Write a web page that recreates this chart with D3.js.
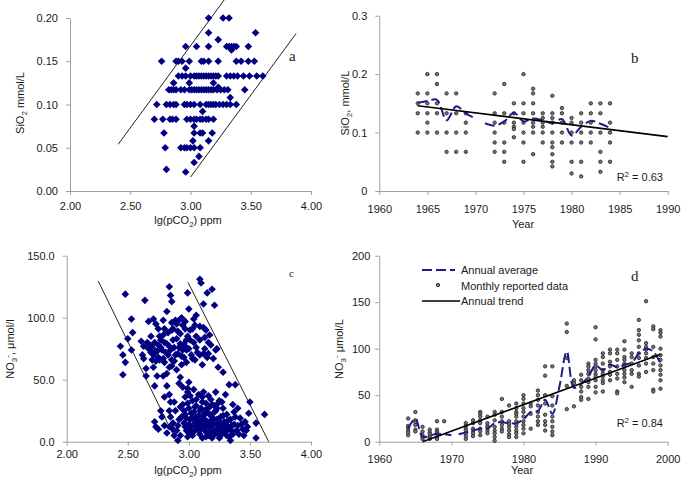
<!DOCTYPE html>
<html><head><meta charset="utf-8">
<script src="https://cdn.jsdelivr.net/npm/d3@7"></script>
<style>
body{margin:0;background:#fff}
svg{display:block}
text{font-family:"Liberation Sans",Arial,sans-serif;fill:#1a1a1a}
</style>
</head><body>
<svg id="chart" width="685" height="489"></svg>
<script>
// ---------------- DATA ----------------
// Panel a: SiO2 (mmol/L) levels and lg(pCO2) values observed at each level
const sio2Rows = [
  [0.200,[3.15,3.27,3.32]],
  [0.183,[3.15,3.54]],
  [0.175,[3.23]],
  [0.167,[2.96,3.05,3.15,3.30,3.32,3.34,3.36,3.38,3.48]],
  [0.163,[3.34]],
  [0.150,[2.76,2.88,2.90,2.93,2.99,3.09,3.11,3.15,3.23,3.38,3.42,3.48,3.53]],
  [0.142,[2.96]],
  [0.133,[2.90,2.93,2.96,3.00,3.03,3.05,3.07,3.09,3.11,3.13,3.15,3.17,3.19,3.21,3.23,3.30,3.33,3.36,3.39,3.44,3.49,3.55,3.60]],
  [0.125,[2.86,2.99,3.19]],
  [0.120,[3.23]],
  [0.117,[2.82,2.84,2.86,2.88,2.92,2.95,2.99,3.01,3.03,3.05,3.07,3.09,3.11,3.13,3.15,3.17,3.19,3.22,3.25,3.28,3.31,3.45]],
  [0.108,[3.33]],
  [0.100,[2.72,2.80,2.83,2.86,2.88,2.95,2.97,3.00,3.03,3.08,3.13,3.15,3.17,3.19,3.21,3.24,3.27,3.30,3.33,3.38]],
  [0.092,[3.10]],
  [0.083,[2.70,2.77,2.83,2.85,2.88,2.97,3.00,3.03,3.05,3.08,3.10,3.13,3.15,3.19]],
  [0.075,[3.03]],
  [0.067,[2.78,3.03,3.08,3.10,3.18]],
  [0.058,[3.02,3.15]],
  [0.050,[2.79,2.92,2.95,2.97,3.00,3.03,3.08]],
  [0.040,[3.07]],
  [0.033,[3.03]],
  [0.025,[2.80]],
  [0.022,[2.96]]
];
const boundsA = [[[2.40,0.054],[3.28,0.221]], [[3.00,0.016],[3.876,0.182]]];

// Panel b: monthly SiO2 by year, annual average, trend
const sio2Monthly = [
  [1964,[0.167,0.15,0.133,0.10]],
  [1965,[0.20,0.167,0.15,0.133,0.117,0.10]],
  [1966,[0.20,0.183,0.15,0.133,0.10]],
  [1967,[0.167,0.133,0.10,0.067]],
  [1968,[0.167,0.133,0.10,0.067]],
  [1969,[0.133,0.117,0.10,0.067]],
  [1972,[0.167,0.133,0.117,0.10,0.083,0.067]],
  [1973,[0.183,0.133,0.117,0.083,0.067,0.05]],
  [1974,[0.15,0.133,0.117,0.11,0.106,0.092]],
  [1975,[0.20,0.15,0.133,0.117,0.10,0.083,0.05]],
  [1976,[0.175,0.167,0.15,0.133,0.117,0.11,0.10,0.063]],
  [1977,[0.133,0.125,0.117,0.11,0.10,0.083]],
  [1978,[0.163,0.133,0.125,0.117,0.10,0.083,0.075,0.063,0.05,0.042]],
  [1979,[0.142,0.133,0.117,0.10,0.083]],
  [1980,[0.125,0.117,0.10,0.083,0.05,0.03]],
  [1981,[0.133,0.117,0.10,0.083,0.05,0.025]],
  [1982,[0.15,0.133,0.117,0.10,0.083]],
  [1983,[0.15,0.133,0.10,0.067,0.05,0.033]],
  [1984,[0.15,0.117,0.10,0.083,0.05]]
];
const sio2AvgYears = [1964,1965,1966,1967,1968,1969,1970,null,1971,1972,1973,1974,1975,1976,1977,1978,1979,1980,1981,1982,1983,1984];
const sio2AvgValues = [0.151,0.154,0.156,0.121,0.145,0.133,0.124,null,0.116,0.112,0.119,0.134,0.119,0.124,0.121,0.116,0.123,0.095,0.110,0.120,0.115,0.108];
const sio2Trend = [[1964,0.146],[1990,0.093]];

// Panel c: NO3 (umol/l) vs lg(pCO2)
const no3Pco = [
  [2.48,119],[2.64,114],[2.84,125],[2.85,118],[2.86,113],[2.99,120],[3.00,107],[3.09,131],[3.10,128],[3.15,120],[3.19,123],[3.21,110],[3.12,111],[3.04,99],[2.97,97],[2.92,98],[2.82,105],[2.79,98],[2.71,99],[2.67,97],[2.53,99],[2.54,88],[2.44,77],[2.46,70],[2.48,64],[2.46,54],[2.50,83],[2.53,74],[2.61,81],[2.63,77],[2.62,70],[2.63,67],[2.65,59],[2.65,53],[2.67,75],[2.69,85],[2.73,95],[2.75,91],[2.71,70],[2.73,65],[2.74,73],[2.77,82],[2.80,91],[2.86,96],[2.87,91],[2.90,95],[2.93,87],[2.95,94],[2.98,82],[3.01,90],[3.03,91],[3.06,85],[3.09,93],[3.12,92],[3.14,90],[3.09,82],[3.12,71],[3.16,80],[3.18,78],[3.16,71],[3.20,67],[3.11,62],[3.09,70],[3.22,74],[3.28,56],[3.33,46],[2.78,74],[2.82,79],[2.84,77],[2.87,82],[2.90,83],[2.93,79],[2.95,74],[2.97,77],[2.99,85],[3.01,82],[2.91,71],[2.94,69],[2.98,74],[2.73,73],[2.76,66],[2.79,67],[2.83,70],[2.86,66],[2.70,66],[2.71,60],[2.74,53],[2.72,45],[2.79,53],[2.82,55],[2.86,61],[2.90,58],[2.94,62],[2.93,52],[2.92,47],[2.95,44],[2.99,43],[2.99,40],[3.00,48],[2.82,45],[2.84,38],[2.80,36],
  [2.68,78],[2.70,76],[2.72,80],[2.75,78],[2.77,76],[2.80,80],[2.81,72],[2.85,74],[2.88,76],[2.89,70],[2.92,76],[2.96,79],[3.00,75],[3.02,70],[3.04,80],[3.06,76],[3.07,72],[3.03,67],[2.96,68],[2.88,65],[2.75,68],[2.69,72],[2.66,80],[2.76,85],[2.83,88],[2.91,89],[2.97,91],[3.05,94],[2.94,100],[2.89,98],[3.06,102],[3.13,84],[3.17,86],[3.23,75],[3.24,60],[2.80,64],[2.84,60],[2.98,64],[3.05,66],[2.86,90],[2.79,86],[3.13,75],[3.15,68],
  [2.72,16],[2.73,12],[2.77,25],[2.80,13],[2.82,7],[2.85,20],[2.87,10],[2.88,5],[2.91,1],[2.85,32],[2.88,32],[2.89,25],[2.92,18],[2.87,15],[2.84,25],[2.90,9],[2.93,5],[2.78,20],[2.75,10],[2.84,12],
  [2.95,30],[2.97,22],[2.96,15],[2.98,9],[2.99,4],[3.00,27],[3.01,18],[3.02,12],[3.00,7],[3.03,33],[3.04,24],[3.05,15],[3.03,5],[3.06,20],[3.07,10],[3.06,29],[3.08,38],[3.09,25],[3.10,17],[3.08,13],[3.09,6],[3.11,32],[3.12,21],[3.13,11],[3.11,3],[3.14,26],[3.15,16],[3.14,8],[3.16,37],[3.17,22],[3.18,12],[3.16,5],[3.19,30],[3.20,18],[3.21,9],[3.19,3],[3.22,25],[3.23,14],[3.24,6],[3.25,33],[3.26,20],[3.27,11],[3.25,3],[3.28,27],[3.29,16],[3.30,8],[3.31,22],[3.32,12],[3.33,4],[3.34,18],[3.35,9],[3.36,30],[3.37,14],[3.38,20],[3.40,13],[3.41,6],[3.42,19],[3.44,10],[3.46,16],[3.47,9],[3.50,32],[3.49,23],[3.55,15],[3.55,3],[3.62,22],[3.38,46],[3.34,1],[3.30,38],[3.22,40],[3.12,40],[3.04,42],[2.97,36],
  [2.98,19],[3.00,14],[3.02,23],[3.04,8],[3.05,28],[3.07,17],[3.08,21],[3.10,10],[3.10,27],[3.12,14],[3.13,18],[3.14,4],[3.15,24],[3.16,12],[3.17,28],[3.18,8],[3.19,20],[3.20,14],[3.21,24],[3.22,7],[3.23,18],[3.24,11],[3.26,15],[3.27,6],[3.28,21],[3.29,10],[3.30,14],[3.31,5],[3.32,17],[3.33,10],[3.35,13],[3.36,6],[3.37,24],[3.39,9],[3.43,14],[3.45,5],[3.40,27],[3.48,12],[2.96,25],[2.99,31],[3.01,37],[3.06,34],[3.11,36],[3.14,31],[3.18,34],[3.21,29],[3.24,31],[3.27,32],[3.09,15],[3.13,23],[3.17,16],[3.20,5],[3.03,19],[3.06,12],[3.01,10],[2.97,12],[2.94,20],[2.93,28],[2.91,13],[3.23,27],[3.26,8]
];
const boundsC = [[[2.258,129.6],[2.90,0]], [[2.993,128.5],[3.654,0]]];

// Panel d: monthly NO3 by year, annual average, trend
const no3Monthly = [
  [1964,[25,17,15,12,10,7]],
  [1965,[32,23,21,18,13,11]],
  [1966,[16,11,7,5,3]],
  [1967,[13,10,8,5,3]],
  [1968,[22,13,11,9,5,3]],
  [1969,[22]],
  [1972,[20,17,14,12,9,6,3]],
  [1973,[23,20,14,12,9,6]],
  [1974,[32,30,27,23,20,14,11,7]],
  [1975,[27,20,17,15,12,9]],
  [1976,[32,29,23,16,12,9,5,1]],
  [1977,[46,32,27,22,18,14,11]],
  [1978,[39,22,19,16,12,8,5]],
  [1979,[41,36,32,30,27,22,19,16,12,9,5]],
  [1980,[50,46,41,36,32,27,22,18,14,9]],
  [1981,[41,38,30,14]],
  [1982,[55,50,45,39,32,27,22,18]],
  [1983,[81,71,50,41,29,22,18,12]],
  [1984,[81,49,39,27,22,16,11,7]],
  [1986,[127,118,90,60,35]],
  [1987,[66,63,38]],
  [1988,[72,66,59,54,48,45]],
  [1989,[84,81,77,73,68,64,59,46]],
  [1990,[123,110,88,84,81,77,73,70,66,59,53]],
  [1991,[95,91,84,77,73,70,66,63,54]],
  [1992,[99,95,86,81,75,72,66]],
  [1993,[99,95,88,81,73,68,54,52]],
  [1994,[108,99,91,88,84,81,77,73,69,64]],
  [1995,[95,91,84,77,73,59]],
  [1996,[131,120,115,109,102,95,90,82,73,70]],
  [1997,[151,106,102,99,95,90,84,75]],
  [1998,[124,121,102,91,84,77,56,54]],
  [1999,[120,117,113,100,93,88,82,77,72,66,57]]
];
const no3AvgYears = [1964,1965,1966,1967,1968,1969,1970,null,1971,1972,1973,1974,1975,1976,1977,1978,1979,1980,1981,1982,1983,1984,1985,1986,1987,1988,1989,1990,1991,1992,1993,1994,1995,1996,1997,1998,1999];
const no3AvgValues = [14,25,5,6.5,8.5,8,7,null,8,10,12,14,14,20,21,20,20,24,32,33,45,30,60,97,58,62,70,82,77,83,80,83,85,95,100,97,84];
const no3Trend = [[1966,0],[1999,94]];

// tick labels
const ticksLgPco = [2.0,2.5,3.0,3.5,4.0];
const ticksSiA = [0,0.05,0.10,0.15,0.20];
const ticksYearB = [1960,1965,1970,1975,1980,1985,1990];
const ticksSiB = [0,0.1,0.2,0.3];
const ticksNo3C = [0,50,100,150];
const ticksYearD = [1960,1970,1980,1990,2000];
const ticksNo3D = [0,50,100,150,200];

// ---------------- DRAW ----------------
const svg = d3.select("#chart");
const NAVY = "#000080";
const AVG = "#1c1c8c";
const AXIS = "#a0a0a0";
const DOT_FILL = "#777";
const DOT_STROKE = "#2a2a2a";
const diamond = "M0,-3.8L3.8,0L0,3.8L-3.8,0Z";

function drawAxes(x, y, xt, yt, xf, yf, xpad, ypad) {
  const gx = svg.append("g").attr("transform", `translate(0,${y.range()[0]})`)
    .call(d3.axisBottom(x).tickValues(xt).tickFormat(xf).tickSize(4).tickSizeOuter(0).tickPadding(xpad));
  const gy = svg.append("g").attr("transform", `translate(${x.range()[0]},0)`)
    .call(d3.axisLeft(y).tickValues(yt).tickFormat(yf).tickSize(4).tickSizeOuter(0).tickPadding(ypad));
  [gx, gy].forEach(g => {
    g.select(".domain").attr("stroke", AXIS);
    g.selectAll(".tick line").attr("stroke", AXIS);
    g.selectAll(".tick text").attr("fill", "#1a1a1a").style("font-size", "11px")
      .style("font-family", '"Liberation Sans",Arial,sans-serif');
  });
}

function richText(x, y, parts, rotate, anchor) {
  const t = svg.append("text").attr("text-anchor", anchor || "middle").style("font-size", "11px");
  if (rotate) t.attr("transform", `translate(${x},${y}) rotate(-90)`);
  else t.attr("x", x).attr("y", y);
  let shift = 0;
  parts.forEach(p => {
    const ts = t.append("tspan").text(p.t);
    const target = p.s === "sub" ? 3 : p.s === "sup" ? -4 : 0;
    if (target !== shift) { ts.attr("dy", target - shift); shift = target; }
    if (p.s) ts.style("font-size", "8px");
  });
  return t;
}

function label(x, y, s, size) {
  svg.append("text").attr("x", x).attr("y", y).text(s)
    .style("font-family", '"Liberation Serif","Times New Roman",serif')
    .style("font-size", size + "px").attr("fill", "#555");
}

function dots(g, pts, x, y) {
  g.selectAll("circle").data(pts).join("circle")
    .attr("cx", d => x(d[0])).attr("cy", d => y(d[1])).attr("r", 1.7)
    .attr("fill", DOT_FILL).attr("stroke", DOT_STROKE).attr("stroke-width", 0.9);
}

// ---- Panel a ----
{
  const x = d3.scaleLinear().domain([2, 4]).range([70, 311]);
  const y = d3.scaleLinear().domain([0, 0.2]).range([191, 18]);
  drawAxes(x, y, ticksLgPco, ticksSiA, d3.format(".2f"), d3.format(".2f"), 7, 8);
  const pts = sio2Rows.flatMap(([v, xs]) => xs.map(p => [p, v]));
  const line = d3.line().x(d => x(d[0])).y(d => y(d[1]));
  boundsA.forEach(b => svg.append("path").attr("d", line(b)).attr("stroke", "#222").attr("stroke-width", 1).attr("fill", "none"));
  svg.append("g").selectAll("path").data(pts).join("path")
    .attr("d", diamond).attr("transform", d => `translate(${x(d[0])},${y(d[1])})`).attr("fill", NAVY);
  richText(188, 224, [{t:"lg(pCO"},{t:"2",s:"sub"},{t:") ppm"}]);
  richText(24, 103, [{t:"SiO"},{t:"2",s:"sub"},{t:" mmol/L"}], true);
  label(289, 61, "a", 15);
}

// ---- Panel b ----
{
  const x = d3.scaleLinear().domain([1960, 1990]).range([379.3, 667.7]);
  const y = d3.scaleLinear().domain([0, 0.3]).range([191, 15.7]);
  drawAxes(x, y, ticksYearB, ticksSiB, d3.format("d"), d => d === 0 ? "0" : d3.format(".1f")(d), 10, 8);
  const pts = sio2Monthly.flatMap(([yr, vs]) => vs.map(v => [yr, v]));
  dots(svg.append("g"), pts, x, y);
  const avg = sio2AvgYears.map((yr, i) => [yr, sio2AvgValues[i]]);
  const avgLine = d3.line().defined(d => d[0] !== null).x(d => x(d[0])).y(d => y(d[1])).curve(d3.curveCatmullRom.alpha(0.5));
  svg.append("path").attr("d", avgLine(avg)).attr("fill", "none").attr("stroke", AVG)
    .attr("stroke-width", 2).attr("stroke-dasharray", "10,4");
  const tl = d3.line().x(d => x(d[0])).y(d => y(d[1]));
  svg.append("path").attr("d", tl(sio2Trend)).attr("fill", "none").attr("stroke", "#000").attr("stroke-width", 1.6);
  svg.append("text").attr("x", 523).attr("y", 228).attr("text-anchor", "middle").style("font-size", "11px").text("Year");
  richText(349, 103, [{t:"SiO"},{t:"2",s:"sub"},{t:", mmol/L"}], true);
  richText(663, 181, [{t:"R"},{t:"2",s:"sup"},{t:" = 0.63"}], false, "end");
  label(631, 63, "b", 15);
}

// ---- Panel c ----
{
  const x = d3.scaleLinear().domain([2, 4]).range([66.7, 311]);
  const y = d3.scaleLinear().domain([0, 150]).range([441.7, 255.7]);
  drawAxes(x, y, ticksLgPco, ticksNo3C, d3.format(".2f"), d3.format(".1f"), 5, 8);
  const line = d3.line().x(d => x(d[0])).y(d => y(d[1]));
  boundsC.forEach(b => svg.append("path").attr("d", line(b)).attr("stroke", "#222").attr("stroke-width", 1).attr("fill", "none"));
  svg.append("g").selectAll("path").data(no3Pco).join("path")
    .attr("d", diamond).attr("transform", d => `translate(${x(d[0])},${y(d[1])})`).attr("fill", NAVY);
  richText(188, 474, [{t:"lg(pCO"},{t:"2",s:"sub"},{t:") ppm"}]);
  richText(14, 349, [{t:"NO"},{t:"3",s:"sub"},{t:"-",s:"sup"},{t:", μmol/l"}], true);
  label(289, 277, "c", 11);
}

// ---- Panel d ----
{
  const x = d3.scaleLinear().domain([1960, 2000]).range([379.3, 667.7]);
  const y = d3.scaleLinear().domain([0, 200]).range([441.7, 255.7]);
  drawAxes(x, y, ticksYearD, ticksNo3D, d3.format("d"), d3.format("d"), 10, 5);
  const pts = no3Monthly.flatMap(([yr, vs]) => vs.map(v => [yr, v]));
  dots(svg.append("g"), pts, x, y);
  const avg = no3AvgYears.map((yr, i) => [yr, no3AvgValues[i]]);
  const avgLine = d3.line().defined(d => d[0] !== null).x(d => x(d[0])).y(d => y(d[1])).curve(d3.curveCatmullRom.alpha(0.5));
  svg.append("path").attr("d", avgLine(avg)).attr("fill", "none").attr("stroke", AVG)
    .attr("stroke-width", 2).attr("stroke-dasharray", "10,4");
  const tl = d3.line().x(d => x(d[0])).y(d => y(d[1]));
  svg.append("path").attr("d", tl(no3Trend)).attr("fill", "none").attr("stroke", "#000").attr("stroke-width", 1.6);
  svg.append("text").attr("x", 522).attr("y", 474).attr("text-anchor", "middle").style("font-size", "11px").text("Year");
  richText(343, 349, [{t:"NO"},{t:"3",s:"sub"},{t:"-",s:"sup"},{t:" μmol/L"}], true);
  richText(663, 427, [{t:"R"},{t:"2",s:"sup"},{t:" = 0.84"}], false, "end");
  label(631, 281, "d", 15);
  // legend
  const lg = svg.append("g");
  lg.append("line").attr("x1", 422).attr("x2", 455).attr("y1", 270).attr("y2", 270)
    .attr("stroke", AVG).attr("stroke-width", 2).attr("stroke-dasharray", "10,4");
  lg.append("circle").attr("cx", 438).attr("cy", 285).attr("r", 1.7)
    .attr("fill", DOT_FILL).attr("stroke", DOT_STROKE).attr("stroke-width", 0.9);
  lg.append("line").attr("x1", 422).attr("x2", 460).attr("y1", 301).attr("y2", 301)
    .attr("stroke", "#000").attr("stroke-width", 1.6);
  const items = ["Annual average", "Monthly reported data", "Annual trend"];
  lg.selectAll("text").data(items).join("text")
    .attr("x", 461).attr("y", (d, i) => 274 + i * 15.5).style("font-size", "11px").text(d => d);
}
</script>
</body></html>
